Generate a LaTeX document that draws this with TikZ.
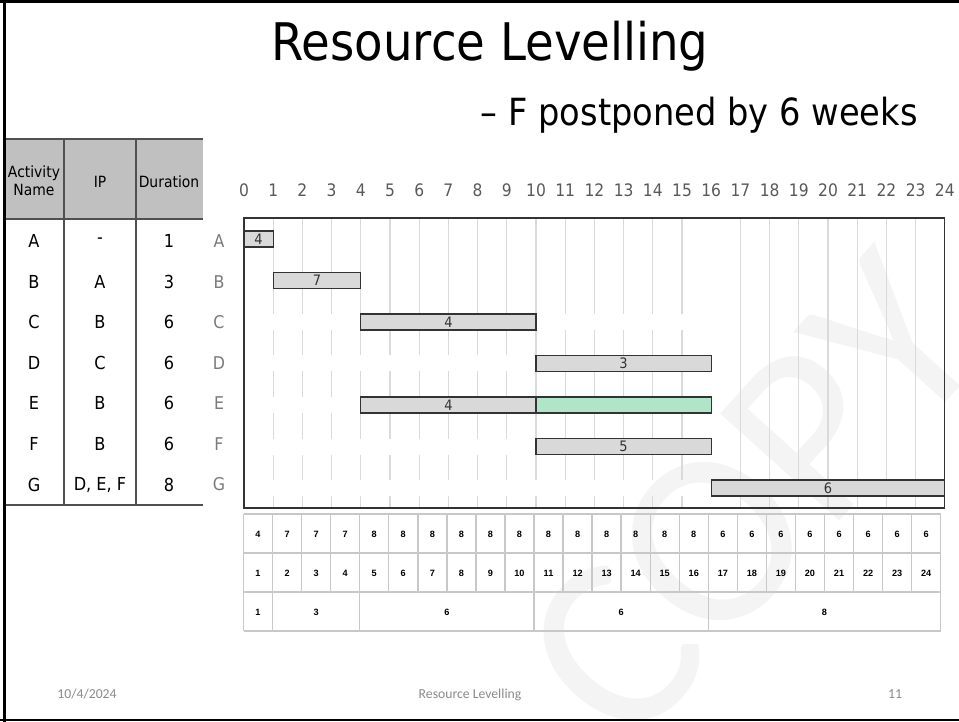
\documentclass[tikz,border=0pt]{standalone}
\usepackage{fontspec}
\usepackage{xcolor}
\usepackage{tikz}
\usetikzlibrary{calc}
\newfontfamily\slidefont[FakeStretch=0.9]{DejaVu Sans}
\newfontfamily\cellfont{Liberation Sans}
\newfontfamily\footfont{Carlito}
\definecolor{axis}{HTML}{595959}
\definecolor{rowlab}{HTML}{7A7A7A}
\definecolor{hdr}{HTML}{C0C0C0}
\definecolor{rule}{HTML}{505050}
\definecolor{gridc}{HTML}{DADADA}
\definecolor{barfill}{HTML}{D9D9D9}
\definecolor{baredge}{HTML}{333333}
\definecolor{shift}{RGB}{150,220,180}
\definecolor{cell}{HTML}{C8C8C8}
\definecolor{foot}{HTML}{8A8A8A}
\definecolor{mark}{HTML}{F4F4F4}
\tikzset{
  title/.style={font=\slidefont\fontsize{29.5}{32}\selectfont, inner sep=0, anchor=base},
  sub/.style={font=\slidefont\fontsize{21.3}{24}\selectfont, inner sep=0, anchor=base east},
  head/.style={font=\slidefont\fontsize{8.8}{10.2}\selectfont, align=center, inner sep=0},
  tab/.style={font=\slidefont\fontsize{10.2}{12}\selectfont, inner sep=0},
  num/.style={text=axis, font=\slidefont\fontsize{9.8}{11}\selectfont, inner sep=0},
  lbl/.style={text=rowlab, font=\slidefont\fontsize{10}{11}\selectfont, inner sep=0},
  grid/.style={draw=gridc, line width=0.6pt},
  bar/.style={draw=baredge, fill=barfill, line width=0.6pt},
  barlab/.style={text=baredge, font=\slidefont\fontsize{8.2}{9}\selectfont, inner sep=0},
  cellrule/.style={draw=cell, line width=0.8pt},
  load/.style={font=\cellfont\bfseries\fontsize{5.2}{6}\selectfont, inner sep=0},
  foot/.style={text=foot, font=\footfont\fontsize{7.8}{9}\selectfont, inner sep=0, anchor=base},
}

\begin{document}
\begin{tikzpicture}[x=0.02cm, y=-0.02cm]
  \def\gx{244}   % left edge of the chart
  \def\wk{29.2}  % one week
  \def\tx{243.5} % left edge of the load table
  \def\cw{29.05}
  \useasboundingbox (0,0) rectangle (959,722);

  % watermark
  \node[rotate=48, text=mark, font=\footfont\fontsize{142}{142}\selectfont] (wm) at (752,498) {COPY};

  % slide frame
  \draw[line width=1.7pt] (0,1.5) -- (959,1.5);
  \draw[line width=1.7pt] (4.5,0) -- (4.5,722);
  \draw[line width=1.7pt] (0,720) -- (959,720);

  \node[title] (ttl) at (490,61) {Resource Levelling};
  \node[sub] (subttl) at (918,126) {– F postponed by 6 weeks};

  % activity table
  \fill[hdr] (6,139) rectangle (203,219);
  \draw[rule, line width=1pt] (6,139) -- (203,139);
  \draw[rule, line width=1pt] (6,219) -- (203,219);
  \draw[rule, line width=1pt] (6,505) -- (203,505);
  \draw[rule, line width=1pt] (64,139) -- (64,505);
  \draw[rule, line width=1pt] (136,139) -- (136,505);
  \node[head] (hName) at (34,181) {Activity\\Name};
  \node[head] (hIP) at (100,182) {IP};
  \node[head] (hDur) at (169,182) {Duration};
  \foreach \nm/\ip/\d [count=\i from 0] in {A/-/1, B/A/3, C/B/6, D/C/6, E/B/6, F/B/6, G/{D, E, F}/8} {
    \pgfmathsetmacro\y{241+40.6*\i}
    \node[tab] (n\nm) at (34,\y) {\nm};
    \node[tab] (ip\nm) at (100,\y) {\ip};
    \node[tab] (d\nm) at (169,\y) {\d};
    \node[lbl] (l\nm) at (219,\y) {\nm};
  }

  % week scale
  \foreach \k in {0,...,24}
    \node[num] (t\k) at ({\gx+\k*\wk},190) {\k};

  % grid, broken behind the lower rows up to week 16
  \foreach \k in {1,...,15}
    \foreach \ya/\yb in {218/314, 330/355, 371/397, 413/439, 455/480, 496/508}
      \draw[grid] ({\gx+\k*\wk},\ya) -- ({\gx+\k*\wk},\yb);
  \foreach \k in {17,...,23}
    \draw[grid] ({\gx+\k*\wk},218) -- ({\gx+\k*\wk},508);

  % bars
  \foreach \nm/\a/\b/\r/\t in {A/0/1/0/4, B/1/4/1/7, C/4/10/2/4, D/10/16/3/3, E/4/10/4/4, F/10/16/5/5, G/16/24/6/6} {
    \pgfmathsetmacro\y{239+41.5*\r}
    \draw[bar] ({\gx+\a*\wk},{\y-8}) rectangle ({\gx+\b*\wk},{\y+8});
    \node[barlab] (b\nm) at ({\gx+(\a+\b)/2*\wk},\y) {\t};
  }
  \draw[bar, fill=shift, fill opacity=0.75] ({\gx+10*\wk},397) rectangle ({\gx+16*\wk},413);

  \draw[baredge, line width=0.7pt] (\gx,218) rectangle ({\gx+24*\wk},508);

  % resource loading table
  \foreach \r in {514,553,592,631}
    \draw[cellrule] (\tx,\r) -- ({\tx+24*\cw},\r);
  \foreach \c in {0,...,24}
    \draw[cellrule] ({\tx+\c*\cw},514) -- ({\tx+\c*\cw},592);
  \foreach \c in {0,1,4,10,16,24}
    \draw[cellrule] ({\tx+\c*\cw},592) -- ({\tx+\c*\cw},631);
  \foreach \v [count=\i] in {4,7,7,7,8,8,8,8,8,8,8,8,8,8,8,8,6,6,6,6,6,6,6,6}
    \node[load] (u\i) at ({\tx+(\i-0.5)*\cw},534) {\v};
  \foreach \i in {1,...,24}
    \node[load] (w\i) at ({\tx+(\i-0.5)*\cw},573) {\i};
  \foreach \a/\b/\t in {0/1/1, 1/4/3, 4/10/6, 10/16/6, 16/24/8}
    \node[load] (s\a) at ({\tx+(\a+\b)/2*\cw},612) {\t};

  % footer
  \node[foot] (fDate) at (87,698) {10/4/2024};
  \node[foot] (fTitle) at (470,698) {Resource Levelling};
  \node[foot] (fPage) at (895,698) {11};
\end{tikzpicture}
\end{document}
